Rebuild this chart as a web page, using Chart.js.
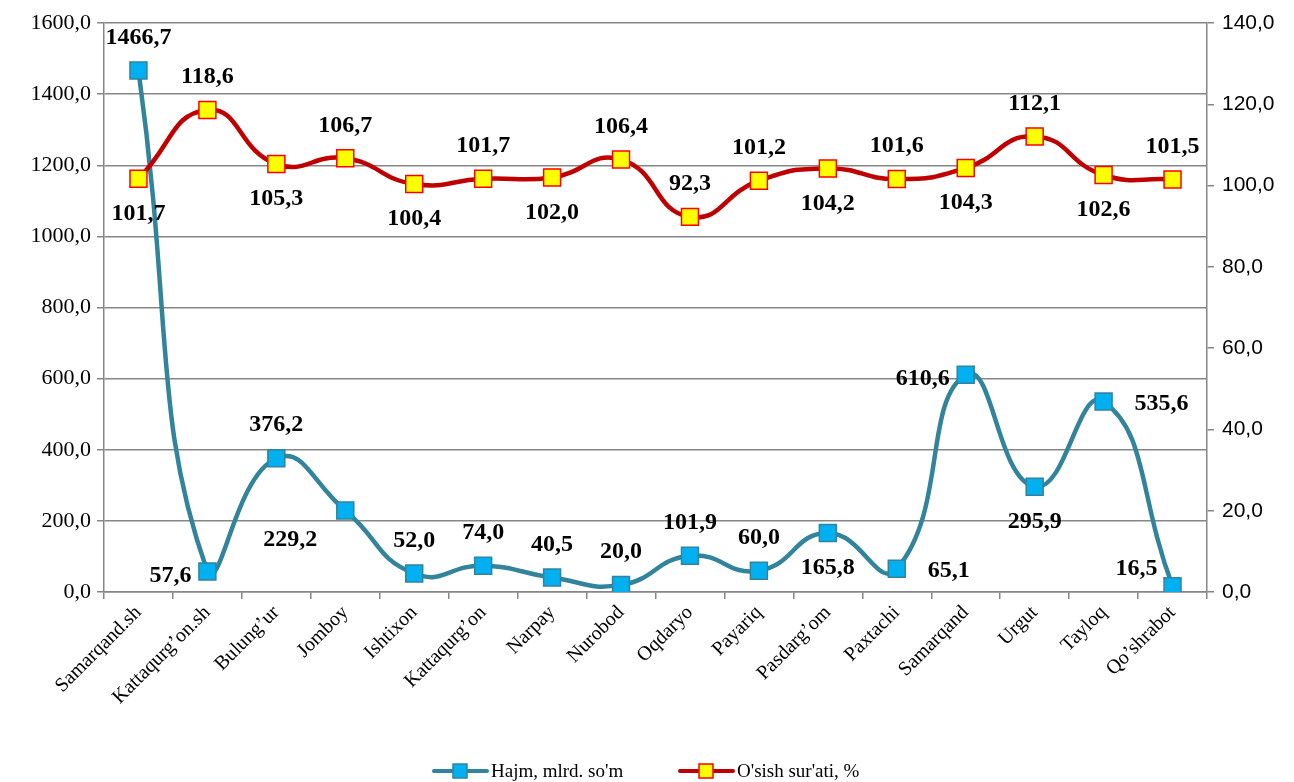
<!DOCTYPE html>
<html>
<head>
<meta charset="utf-8">
<script src="https://cdn.jsdelivr.net/npm/chart.js@4.4.0/dist/chart.umd.min.js"></script>
<style>
  html, body { margin: 0; padding: 0; background: #ffffff; }
  #wrap { width: 1294px; height: 782px; }
</style>
</head>
<body>
<div id="wrap"><canvas id="graf"></canvas></div>
<script>
// tumanlar
const tumanlar = ['Samarqand.sh', 'Kattaqurg\u2019on.sh', 'Bulung\u2019ur', 'Jomboy', 'Ishtixon', 'Kattaqurg\u2019on',
  'Narpay', 'Nurobod', 'Oqdaryo', 'Payariq', 'Pasdarg\u2019om', 'Paxtachi', 'Samarqand', 'Urgut', 'Tayloq', 'Qo\u2019shrabot'];

// hajm, mlrd. so'm (chap o'q)
const hajm = [1466.7, 57.6, 376.2, 229.2, 52.0, 74.0, 40.5, 20.0, 101.9, 60.0, 165.8, 65.1, 610.6, 295.9, 535.6, 16.5];

// o'sish sur'ati, % (o'ng o'q)
const osish = [101.7, 118.6, 105.3, 106.7, 100.4, 101.7, 102.0, 106.4, 92.3, 101.2, 104.2, 101.6, 104.3, 112.1, 102.6, 101.5];

// yorliqlar qayerda turadi
const hajmJoy = ['above', 'left', 'above', 'belowleft', 'above', 'above', 'above', 'above', 'above', 'above', 'below', 'right', 'left', 'below', 'right', 'aboveleft'];
const osishJoy = ['below', 'above', 'below', 'above', 'below', 'above', 'below', 'above', 'above', 'above', 'below', 'above', 'below', 'above', 'below', 'above'];

const gridRang = '#868686';
const vergul = v => v.toFixed(1).replace('.', ',');

// yorliqlar plagini
const yorliqlar = {
  id: 'yorliqlar',
  afterDatasetsDraw(chart) {
    const ctx = chart.ctx;
    ctx.save();
    ctx.font = 'bold 24px "Liberation Serif", "Times New Roman", serif';
    ctx.fillStyle = '#000000';
    ctx.textBaseline = 'middle';
    chart.data.datasets.forEach((ds, i) => {
      const meta = chart.getDatasetMeta(i);
      meta.data.forEach((pt, j) => {
        const txt = vergul(ds.data[j]);
        const joy = ds.joy[j];
        let x = pt.x, y = pt.y;
        ctx.textAlign = 'center';
        if (joy === 'above') y -= 33;
        else if (joy === 'below') y += 35;
        else if (joy === 'left') { ctx.textAlign = 'right'; x -= 16; y += 4; }
        else if (joy === 'right') { ctx.textAlign = 'left'; x += 31; y += 2; }
        else if (joy === 'belowleft') { ctx.textAlign = 'right'; x -= 28; y += 29; }
        else if (joy === 'aboveleft') { ctx.textAlign = 'right'; x -= 15; y -= 17; }
        ctx.fillText(txt, x, y);
      });
    });
    ctx.restore();
  }
};

// pastki legenda
const legenda = {
  id: 'legenda',
  afterDraw(chart) {
    const ctx = chart.ctx;
    const y = 771;
    const items = [
      { x: 432, line: '#31849B', fill: '#00B0F0', border: '#31849B', text: 'Hajm, mlrd. so\'m' },
      { x: 678, line: '#C00000', fill: '#FFFF00', border: '#FF0000', text: 'O\'sish sur\'ati, %' }
    ];
    ctx.save();
    items.forEach(it => {
      ctx.strokeStyle = it.line;
      ctx.lineWidth = 4;
      ctx.lineCap = 'round';
      ctx.beginPath();
      ctx.moveTo(it.x + 2, y);
      ctx.lineTo(it.x + 55, y);
      ctx.stroke();
      ctx.fillStyle = it.fill;
      ctx.strokeStyle = it.border;
      ctx.lineWidth = 1.5;
      ctx.fillRect(it.x + 21, y - 7, 14, 14);
      ctx.strokeRect(it.x + 21, y - 7, 14, 14);
      ctx.fillStyle = '#000000';
      ctx.font = '19px "Liberation Serif", "Times New Roman", serif';
      ctx.textAlign = 'left';
      ctx.textBaseline = 'middle';
      ctx.fillText(it.text, it.x + 59, y + 1);
    });
    ctx.restore();
  }
};

new Chart(document.getElementById('graf'), {
  type: 'line',
  data: {
    labels: tumanlar,
    datasets: [{
      label: 'Hajm, mlrd. so\'m',
      data: hajm,
      joy: hajmJoy,
      yAxisID: 'y',
      borderColor: '#31849B',
      borderWidth: 4.5,
      tension: 0.5,
      pointStyle: 'rect',
      pointRadius: 12,
      pointHoverRadius: 12,
      pointBackgroundColor: '#00B0F0',
      pointBorderColor: '#31849B',
      pointBorderWidth: 1.5,
      order: 1
    }, {
      label: 'O\'sish sur\'ati, %',
      data: osish,
      joy: osishJoy,
      yAxisID: 'y1',
      borderColor: '#C00000',
      borderWidth: 4.5,
      tension: 0.5,
      pointStyle: 'rect',
      pointRadius: 12,
      pointHoverRadius: 12,
      pointBackgroundColor: '#FFFF00',
      pointBorderColor: '#FF0000',
      pointBorderWidth: 1.5,
      order: 0
    }]
  },
  options: {
    responsive: true,
    maintainAspectRatio: false,
    animation: false,
    layout: { padding: { top: 23, left: 0, right: 0, bottom: 0 } },
    plugins: {
      legend: { display: false },
      tooltip: { enabled: false }
    },
    scales: {
      x: {
        offset: true,
        grid: { offset: true, drawOnChartArea: false, drawTicks: true, tickLength: 7, color: gridRang, lineWidth: 1.5 },
        border: { color: gridRang, width: 1.5 },
        ticks: {
          color: '#000000',
          maxRotation: 45,
          minRotation: 45,
          autoSkip: false,
          padding: 2,
          font: { family: '"Liberation Serif", "Times New Roman", serif', size: 20 }
        },
        afterFit(scale) { scale.height = 190; }
      },
      y: {
        position: 'left',
        min: 0,
        max: 1600,
        ticks: {
          stepSize: 200,
          color: '#000000',
          padding: 6,
          font: { family: '"Liberation Serif", "Times New Roman", serif', size: 22 },
          callback: v => vergul(v)
        },
        grid: { color: gridRang, lineWidth: 1.5, tickLength: 7 },
        border: { color: gridRang, width: 1.5 },
        afterFit(scale) { scale.width = 104; }
      },
      y1: {
        position: 'right',
        min: 0,
        max: 140,
        ticks: {
          stepSize: 20,
          color: '#000000',
          padding: 8,
          font: { family: '"Liberation Sans", Arial, sans-serif', size: 21 },
          callback: v => vergul(v)
        },
        grid: { drawOnChartArea: false, color: gridRang, lineWidth: 1.5, tickLength: 7 },
        border: { color: gridRang, width: 1.5 },
        afterFit(scale) { scale.width = 87; }
      }
    }
  },
  plugins: [yorliqlar, legenda]
});
</script>
</body>
</html>
